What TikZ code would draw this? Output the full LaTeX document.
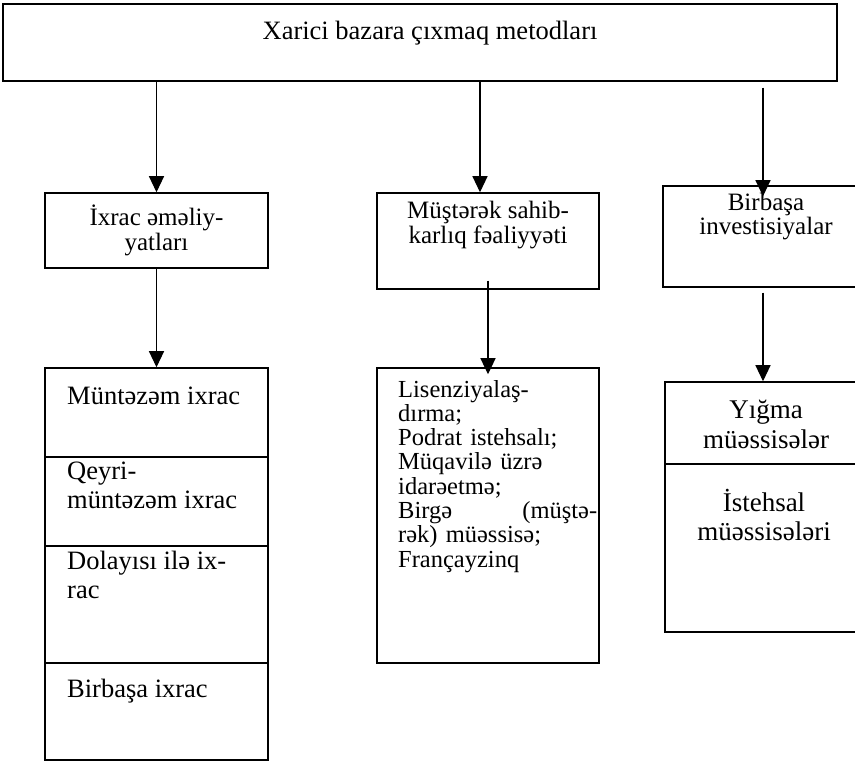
\documentclass[tikz,border=0pt]{standalone}
\usepackage{fontspec}
\setmainfont{Liberation Serif}
\usetikzlibrary{arrows.meta}

\begin{document}
\begin{tikzpicture}[x=1pt,y=-1pt,
	box/.style={shape=rectangle,draw=black,line width=1.5pt},
	arr/.style={-{Triangle[length=16pt,width=15pt]},line width=1.1pt,black},
	lbl/.style={inner sep=0pt,anchor=base}]
	\useasboundingbox (0,0) rectangle (855,762);
	\clip (0,0) rectangle (855,762);

	\node[box,minimum width=834,minimum height=77] (M) at (420,42.5) {};
	\node[lbl,font=\fontsize{26.5}{30}\selectfont] (Mt) at (430,40) {Xarici bazara çıxmaq metodları};

	\node[box,minimum width=223,minimum height=75] (I) at (156.5,230.5) {};
	\node[box,minimum width=222,minimum height=96] (S) at (488,241) {};
	\node[box,minimum width=200,minimum height=101] (B) at (763,236.5) {};
	\node[lbl,align=center,font=\fontsize{25}{25}\selectfont] (It) at (156.5,251) {İxrac əməliy-\\yatları};
	\node[lbl,align=center,font=\fontsize{25}{25}\selectfont] (St) at (488,244) {Müştərək sahib-\\karlıq fəaliyyəti};
	\node[lbl,align=center,font=\fontsize{25}{24}\selectfont] (Bt) at (766,235) {Birbaşa\\investisiyalar};

	\node[box,minimum width=223,minimum height=89] (I1) at (156.5,412.5) {};
	\node[box,minimum width=223,minimum height=89] (I2) at (156.5,501.5) {};
	\node[box,minimum width=223,minimum height=117] (I3) at (156.5,604.5) {};
	\node[box,minimum width=223,minimum height=97] (I4) at (156.5,711.5) {};
	\node[lbl,anchor=base west,align=left,font=\fontsize{26.5}{28}\selectfont] (I1t) at (67,404) {Müntəzəm ixrac};
	\node[lbl,anchor=base west,align=left,font=\fontsize{26.5}{29}\selectfont] (I2t) at (67,508) {Qeyri-\\müntəzəm ixrac};
	\node[lbl,anchor=base west,align=left,font=\fontsize{26.5}{29}\selectfont] (I3t) at (67,598) {Dolayısı ilə ix-\\rac};
	\node[lbl,anchor=base west,align=left,font=\fontsize{26.5}{28}\selectfont] (I4t) at (67,697) {Birbaşa ixrac};

	\node[box,minimum width=222,minimum height=295] (S1) at (488,515.5) {};
	\node[lbl,anchor=base west,align=left,text width=199pt,font=\fontsize{24.5}{24.3}\selectfont] (S1t) at (398,397)
		{Lisenziyalaş-\\dırma;\\Podrat istehsalı;\\Müqavilə üzrə\\idarəetmə;\\Birgə\hfill(müştə-\\rək) müəssisə;\\Françayzinq};

	\node[box,minimum width=196,minimum height=82] (B1) at (763,423) {};
	\node[box,minimum width=196,minimum height=168] (B2) at (763,548) {};
	\node[lbl,align=center,font=\fontsize{27}{30}\selectfont] (B1t) at (766,448) {Yığma\\müəssisələr};
	\node[lbl,align=center,font=\fontsize{27}{29}\selectfont] (B2t) at (764,540) {İstehsal\\müəssisələri};

	\path [arr] (I.north |- M.south) edge (I.north);
	\path [arr] ([xshift=-8pt]S.north |- M.south) edge ([xshift=-8pt]S.north);
	\path [arr] ([yshift=-6pt]B.north |- M.south) edge ([yshift=-11pt]B.north);
	\path [arr] (I.south) edge (I1.north);
	\path [arr] ([yshift=9pt]S.south) edge ([yshift=-7pt]S1.north);
	\path [arr] ([yshift=-5pt]B.south) edge (B1.north);
\end{tikzpicture}
\end{document}
